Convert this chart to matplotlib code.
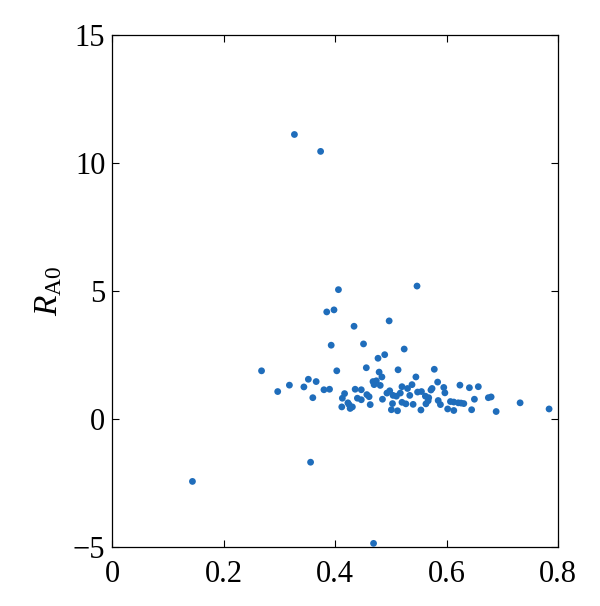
import matplotlib
matplotlib.use("Agg")
import matplotlib.pyplot as plt

# points
x_vals = [0.327, 0.374, 0.406, 0.547, 0.385, 0.398, 0.497, 0.434, 0.393, 0.451,
          0.524, 0.489, 0.477, 0.456, 0.268, 0.403, 0.513, 0.578, 0.479, 0.484,
          0.545, 0.352, 0.366, 0.468, 0.474, 0.584, 0.318, 0.344, 0.470, 0.481,
          0.624, 0.538, 0.520, 0.641, 0.657, 0.595, 0.574, 0.572, 0.380, 0.390,
          0.436, 0.447, 0.530, 0.548, 0.555, 0.498, 0.297, 0.493, 0.517, 0.597,
          0.417, 0.457, 0.504, 0.510, 0.534, 0.562, 0.461, 0.568, 0.675, 0.680,
          0.360, 0.413, 0.440, 0.485, 0.447, 0.650, 0.585, 0.567, 0.607, 0.613,
          0.621, 0.631, 0.626, 0.732, 0.520, 0.527, 0.540, 0.503, 0.563, 0.589,
          0.423, 0.425, 0.463, 0.412, 0.431, 0.427, 0.602, 0.501, 0.512, 0.554,
          0.613, 0.645, 0.689, 0.784, 0.356, 0.144, 0.469]
y_vals = [11.12, 10.46, 5.06, 5.20, 4.19, 4.27, 3.84, 3.63, 2.89, 2.94,
          2.74, 2.52, 2.38, 2.01, 1.89, 1.89, 1.93, 1.95, 1.84, 1.65,
          1.65, 1.56, 1.47, 1.47, 1.50, 1.45, 1.33, 1.26, 1.35, 1.32,
          1.33, 1.35, 1.27, 1.23, 1.27, 1.24, 1.20, 1.14, 1.15, 1.17,
          1.17, 1.15, 1.20, 1.06, 1.08, 1.11, 1.08, 1.02, 1.02, 1.03,
          1.00, 0.96, 0.93, 0.90, 0.93, 0.90, 0.88, 0.84, 0.84, 0.87,
          0.84, 0.82, 0.82, 0.78, 0.76, 0.78, 0.73, 0.72, 0.69, 0.67,
          0.64, 0.61, 0.63, 0.64, 0.66, 0.60, 0.58, 0.61, 0.60, 0.57,
          0.64, 0.57, 0.57, 0.48, 0.48, 0.42, 0.40, 0.37, 0.33, 0.36,
          0.34, 0.37, 0.30, 0.40, -1.68, -2.43, -4.85]

x_ticks = [0, 0.2, 0.4, 0.6, 0.8]
x_tick_labels = ["0", "0.2", "0.4", "0.6", "0.8"]
y_ticks = [-5, 0, 5, 10, 15]
y_tick_labels = ["\u22125", "0", "5", "10", "15"]

plt.rcParams["font.family"] = "Liberation Serif"
plt.rcParams["mathtext.fontset"] = "custom"
plt.rcParams["mathtext.rm"] = "Liberation Serif"
plt.rcParams["mathtext.it"] = "Liberation Serif:italic"

fig = plt.figure(figsize=(6, 6.06), dpi=100)
ax = fig.add_axes([0.187, 0.097, 0.743, 0.845])

ax.scatter(x_vals, y_vals, s=24, color="#1f6dbb", edgecolors="none", zorder=3)

ax.set_xlim(0, 0.8)
ax.set_ylim(-5, 15)
ax.set_xticks(x_ticks)
ax.set_xticklabels(x_tick_labels)
ax.set_yticks(y_ticks)
ax.set_yticklabels(y_tick_labels)
ax.tick_params(direction="in", top=True, right=True, labelsize=22, length=5,
               width=0.8, pad=5)
ax.tick_params(axis="x", pad=9)
for sp in ax.spines.values():
    sp.set_linewidth(0.9)

ax.set_ylabel(r"$R_{\mathrm{A0}}$", fontsize=24, labelpad=6)

fig.savefig("out.png", dpi=100)
